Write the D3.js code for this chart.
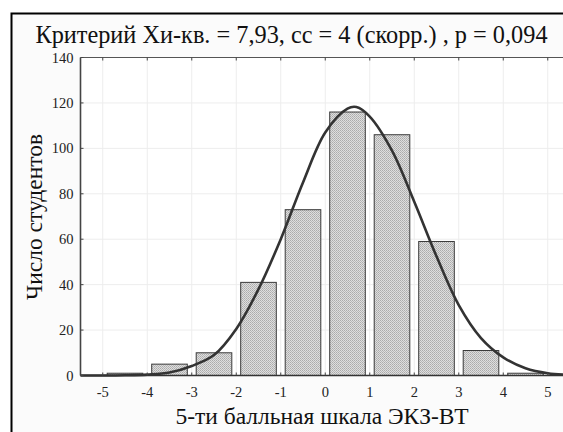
<!DOCTYPE html>
<html>
<head>
<meta charset="utf-8">
<script src="https://cdn.jsdelivr.net/npm/d3@7"></script>
<style>
  body { margin: 0; background: #fff; }
  svg { display: block; }
</style>
</head>
<body>
<div id="chart"></div>
<script>
// histogram bins (lower edge) and counts
var binStarts = [-5, -4, -3, -2, -1, 0, 1, 2, 3, 4];
var counts = [1, 5, 10, 41, 73, 116, 106, 59, 11, 1];

// fitted normal curve
var curveX = [-5.5, -5, -4.5, -4, -3.5, -3, -2.5, -2, -1.5, -1, -0.5, 0, 0.5, 0.7, 1, 1.5, 2, 2.5, 3, 3.5, 4, 4.5, 5, 5.5];
var curveY = [0, 0, 0.1, 0.4, 1.3, 4.2, 9, 20.5, 38, 60, 85, 107, 117.5, 118.2, 114, 99, 76.5, 52.5, 31, 16.5, 8, 3.2, 1, 0.3];

var xTicks = [-5, -4, -3, -2, -1, 0, 1, 2, 3, 4, 5];
var yTicks = [0, 20, 40, 60, 80, 100, 120, 140];

var titleText = "Критерий Хи-кв. = 7,93, сс = 4 (скорр.) , р = 0,094";
var xTitle = "5-ти балльная шкала ЭКЗ-ВТ";
var yTitle = "Число студентов";

var W = 563, H = 432;
var pLeft = 80.5, pRight = 570, pTop = 57.5, pBottom = 375.5;
var FONT = 'Liberation Serif';

var svg = d3.select('#chart').append('svg')
            .attr('width', W).attr('height', H);

// figure background + black frame (cropped on right/bottom)
svg.append('rect').attr('x', 0).attr('y', 0).attr('width', W).attr('height', H).attr('fill', '#fff');
svg.append('rect')
   .attr('x', 11.5).attr('y', 13.5)
   .attr('width', W + 10).attr('height', H + 10)
   .attr('fill', '#fbfbfb')
   .attr('stroke', '#000').attr('stroke-width', 2);

// fine dither fill for the bars
var defs = svg.append('defs');
var pat = defs.append('pattern')
              .attr('id', 'hatch')
              .attr('patternUnits', 'userSpaceOnUse')
              .attr('width', 2).attr('height', 2);
pat.append('rect').attr('width', 2).attr('height', 2).attr('fill', '#dedede');
pat.append('rect').attr('width', 1).attr('height', 1).attr('fill', '#ababab');
pat.append('rect').attr('x', 1).attr('y', 1).attr('width', 1).attr('height', 1).attr('fill', '#b8b8b8');

var x = d3.scaleLinear().domain([-5.5, 5.5]).range([pLeft, pRight]);
var y = d3.scaleLinear().domain([0, 140]).range([pBottom, pTop]);

// plot area
svg.append('rect')
   .attr('x', pLeft).attr('y', pTop)
   .attr('width', pRight - pLeft).attr('height', pBottom - pTop)
   .attr('fill', '#fff');

// grid
svg.append('g').selectAll('line').data(xTicks).enter().append('line')
   .attr('x1', d => x(d)).attr('x2', d => x(d))
   .attr('y1', pTop).attr('y2', pBottom)
   .attr('stroke', '#ededed').attr('stroke-width', 1);
svg.append('g').selectAll('line').data(yTicks.slice(1, -1)).enter().append('line')
   .attr('x1', pLeft).attr('x2', pRight)
   .attr('y1', d => y(d)).attr('y2', d => y(d))
   .attr('stroke', '#ededed').attr('stroke-width', 1);

// bars
var binW = x(1) - x(0);
svg.append('g').selectAll('rect').data(counts).enter().append('rect')
   .attr('x', (d, i) => x(binStarts[i]) + binW * 0.1)
   .attr('width', binW * 0.8)
   .attr('y', d => y(d))
   .attr('height', d => y(0) - y(d))
   .attr('fill', 'url(#hatch)')
   .attr('stroke', '#3a3a3a').attr('stroke-width', 1);

// curve
var pts = curveX.map((v, i) => [v, curveY[i]]);
var line = d3.line()
             .x(d => x(d[0])).y(d => y(d[1]))
             .curve(d3.curveCatmullRom);
svg.append('path')
   .attr('d', line(pts))
   .attr('fill', 'none')
   .attr('stroke', '#333').attr('stroke-width', 2.6);

// axes frame
svg.append('line').attr('x1', pLeft).attr('x2', W).attr('y1', pTop).attr('y2', pTop)
   .attr('stroke', '#555').attr('stroke-width', 1.2);
svg.append('line').attr('x1', pLeft).attr('x2', pLeft).attr('y1', pTop).attr('y2', pBottom)
   .attr('stroke', '#444').attr('stroke-width', 1.6);
svg.append('line').attr('x1', pLeft).attr('x2', W).attr('y1', pBottom).attr('y2', pBottom)
   .attr('stroke', '#333').attr('stroke-width', 1.6);

// inner ticks
svg.append('g').selectAll('line').data(xTicks).enter().append('line')
   .attr('x1', d => x(d)).attr('x2', d => x(d))
   .attr('y1', pBottom).attr('y2', pBottom - 3)
   .attr('stroke', '#444');
svg.append('g').selectAll('line').data(xTicks).enter().append('line')
   .attr('x1', d => x(d)).attr('x2', d => x(d))
   .attr('y1', pTop).attr('y2', pTop + 3)
   .attr('stroke', '#444');
svg.append('g').selectAll('line').data(yTicks).enter().append('line')
   .attr('x1', pLeft).attr('x2', pLeft + 3)
   .attr('y1', d => y(d)).attr('y2', d => y(d))
   .attr('stroke', '#444');

// tick labels
svg.append('g').selectAll('text').data(xTicks).enter().append('text')
   .attr('font-family', FONT)
   .attr('x', d => x(d)).attr('y', pBottom + 21.5)
   .attr('text-anchor', 'middle')
   .attr('font-size', 14.5).attr('fill', '#222')
   .text(d => String(d));
svg.append('g').selectAll('text').data(yTicks).enter().append('text')
   .attr('font-family', FONT)
   .attr('x', pLeft - 7).attr('y', d => y(d) + 5)
   .attr('text-anchor', 'end')
   .attr('font-size', 14.5).attr('fill', '#222')
   .text(d => d);

// titles
svg.append('text')
   .attr('font-family', FONT)
   .attr('x', 291.5).attr('y', 43)
   .attr('text-anchor', 'middle')
   .attr('font-size', 24.3).attr('fill', '#111')
   .text(titleText);
svg.append('text')
   .attr('font-family', FONT)
   .attr('x', 322).attr('y', 424)
   .attr('text-anchor', 'middle')
   .attr('font-size', 23.5).attr('fill', '#111')
   .text(xTitle);
svg.append('text')
   .attr('font-family', FONT)
   .attr('transform', 'translate(42,217) rotate(-90)')
   .attr('text-anchor', 'middle')
   .attr('font-size', 23.5).attr('fill', '#111')
   .text(yTitle);
</script>
</body>
</html>
